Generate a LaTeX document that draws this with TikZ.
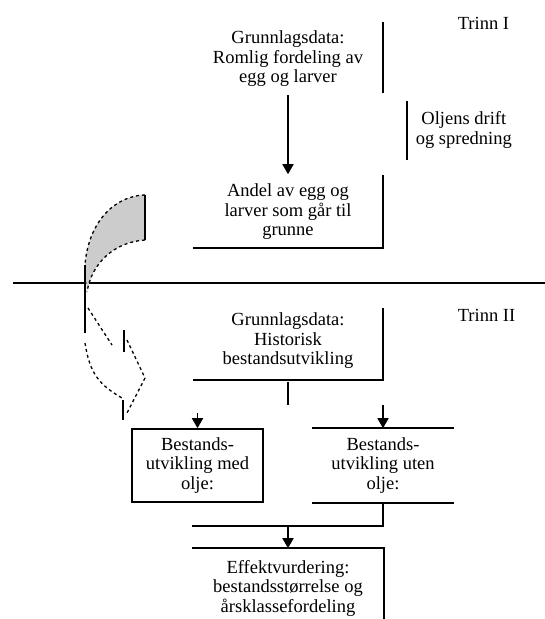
\documentclass[tikz,border=0pt]{standalone}
\usepackage{fontspec}
\setmainfont{Liberation Serif}
\usetikzlibrary{positioning, arrows.meta, calc}
\definecolor{BandGray}{RGB}{204, 204, 204}

\begin{document}
\begin{tikzpicture}[x=1pt, y=-1pt, line width=1.6pt,
    txt/.style={font=\fontsize{18.5}{19.5}\selectfont, align=center, inner sep=0pt},
    stepbox/.style={txt, minimum width=190pt},
    arr/.style={-{Triangle[width=11pt,length=10pt]}},
    fold/.style={line width=1.3pt, dash pattern=on 3pt off 3pt}]
  \useasboundingbox (0,0) rectangle (545,619);

    % Trinn I
    \node[txt, anchor=west] (trinnI) at (457,23) {Trinn I};
    \node[stepbox, minimum height=71pt] (gdI) at (288,59) {Grunnlagsdata:\\Romlig fordeling av\\egg og larver};
    \draw (383,22) -- (383,93);
    \node[txt, anchor=west] (olje) at (415,130) {Oljens drift\\og spredning};
    \draw (407,101) -- (407,160);
    \node[stepbox, minimum height=74pt] (andel) at (288,212) {Andel av egg og\\larver som går til\\grunne};
    \draw (383,175) -- (383,248) -- (193,248);
    \draw[arr] (288,95) -- (andel.north);

    % skillelinje
    \draw (13,283) -- (545,283);

    % Trinn II
    \node[txt, anchor=west] (trinnII) at (457,315) {Trinn II};
    \node[stepbox, minimum height=80pt] (gdII) at (288,341) {Grunnlagsdata:\\Historisk\\bestandsutvikling};
    \draw (383,308) -- (383,380) -- (193,380);
    \node[txt, draw, minimum width=131pt, minimum height=73pt] (med) at (197.5,465.5) {Bestands-\\utvikling med\\olje:};
    \node[txt, minimum width=140pt, minimum height=73pt] (uten) at (383,465.5) {Bestands-\\utvikling uten\\olje:};
    \draw (uten.north west) -- (uten.north east) (uten.south west) -- (uten.south east);
    \node[stepbox, minimum height=78pt] (maal) at (288,588) {Effektvurdering:\\bestandsstørrelse og\\årsklassefordeling};
    \draw (maal.north west) -- (maal.north east) -- (maal.south east);

    \draw (gdII.south) -- ++(0,23) coordinate (split);
    \draw[arr] (split -| uten.north) -- (uten.north);
    \draw[arr] ($(med.north)+(0,-15)$) -- (med.north);
    \draw (uten.south) -- ++(0,23) coordinate (join) -- (join -| maal.north west);
    \draw[arr] (join -| maal.north) -- (maal.north);

    % bøyd pil fra trinn I til trinn II
    \fill[BandGray] (145,195) .. controls (112,196) and (88,225) .. (85,265)
      -- (87,292) .. controls (92,262) and (115,242) .. (145,240) -- cycle;
    \draw[fold] (145,195) .. controls (112,196) and (88,225) .. (85,265);
    \draw[fold] (145,240) .. controls (115,242) and (92,262) .. (87,292);
    \draw (145,195) -- (145,240);
    \draw (85,265) -- (85,333);
    \draw[fold] (88,308) -- (112,345);
    \draw (124,330) -- (124,352);
    \draw[fold] (127,340) -- (145,378) -- (127,413);
    \draw (123,400) -- (123,420);
    \draw[fold] (85,343) .. controls (90,375) and (100,385) .. (122,398);
  \end{tikzpicture}
\end{document}
